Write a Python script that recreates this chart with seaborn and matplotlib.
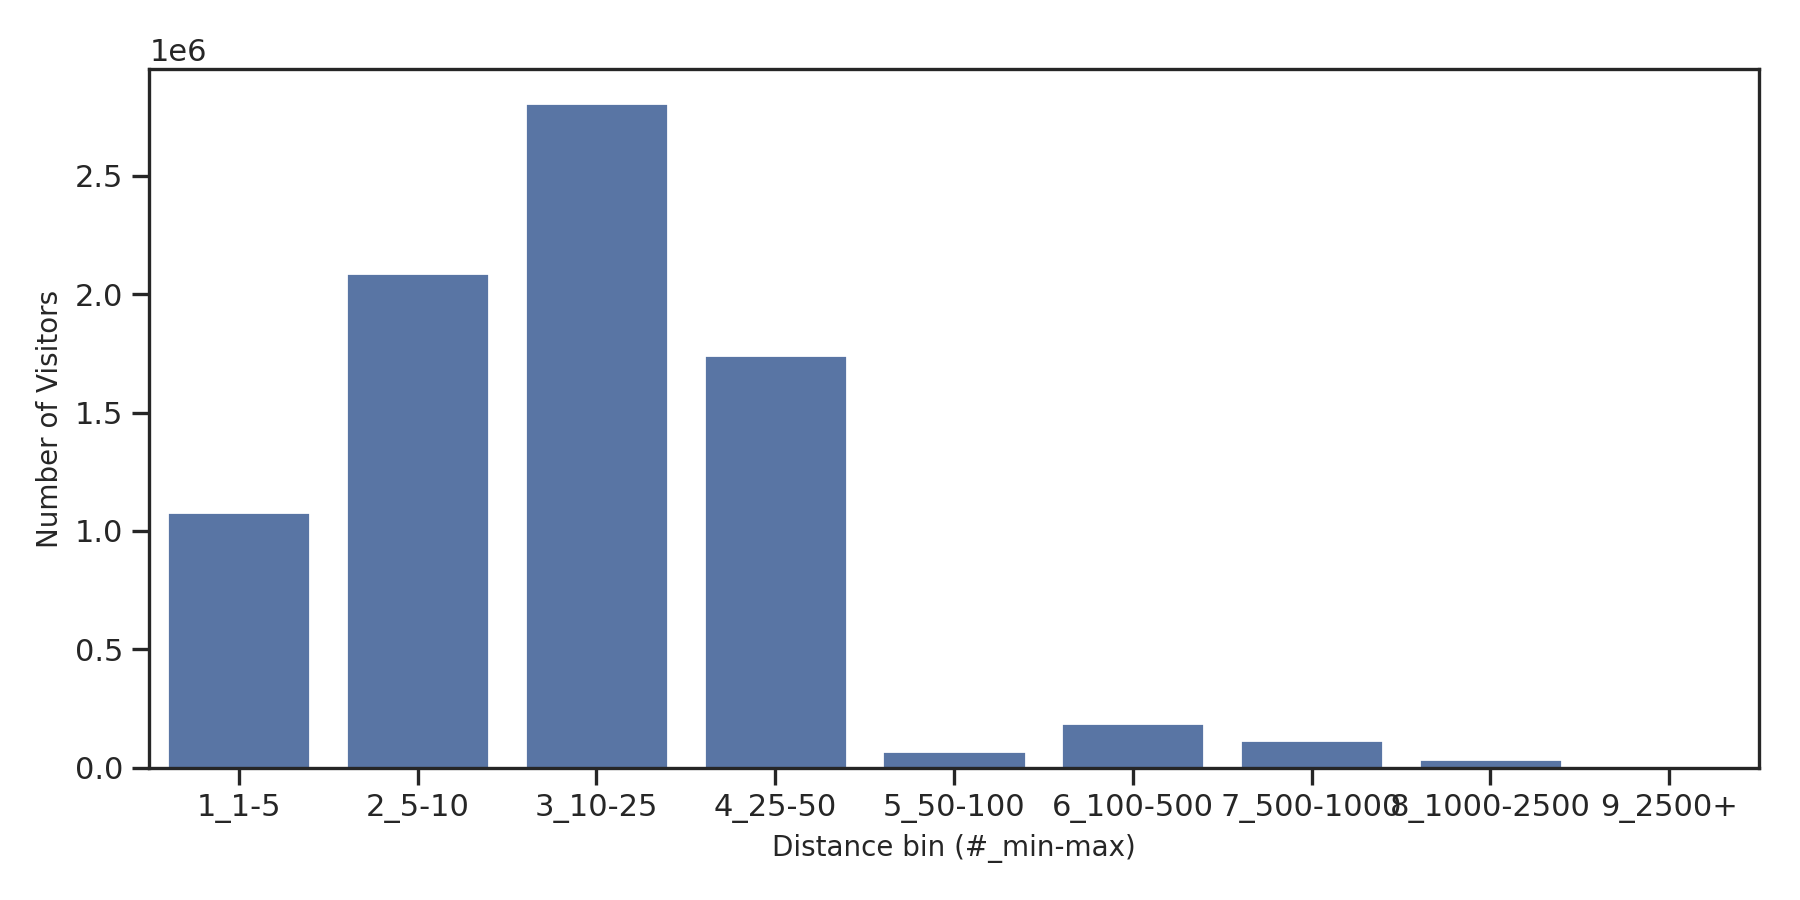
import matplotlib
matplotlib.use("Agg")
import matplotlib.pyplot as plt
import seaborn as sns
import pandas as pd

bins = ["1_1-5", "2_5-10", "3_10-25", "4_25-50", "5_50-100", "6_100-500",
        "7_500-1000", "8_1000-2500", "9_2500+"]
visitors = [1080000, 2090000, 2810000, 1745000, 70000, 190000, 115000, 35000, 3000]

sns.set_theme(style="ticks")
df = pd.DataFrame({"bin": bins, "visitors": visitors})
fig, ax = plt.subplots(figsize=(9, 4.5), dpi=200)
sns.barplot(data=df, x="bin", y="visitors", color="#4c72b0", ax=ax)
ax.set_xlabel("Distance bin (#_min-max)", fontsize=10)
ax.set_ylabel("Number of Visitors", fontsize=10)
ax.tick_params(axis="both", labelsize=11, length=6, width=1.2)
for s in ax.spines.values():
    s.set_linewidth(1.2)
fig.subplots_adjust(left=0.083, right=0.977, top=0.923, bottom=0.147)
fig.savefig("out.png")
